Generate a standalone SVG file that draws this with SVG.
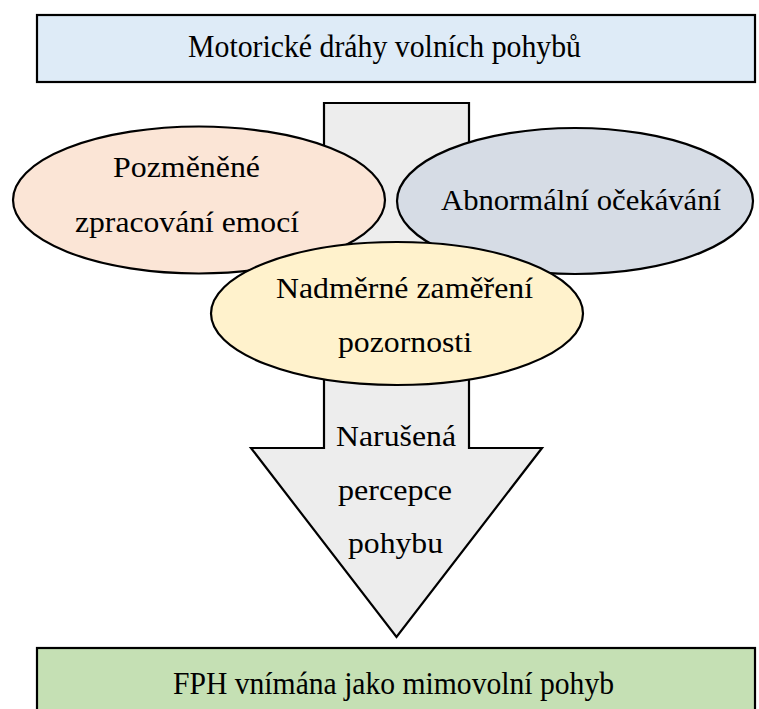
<svg xmlns="http://www.w3.org/2000/svg" width="759" height="709" viewBox="0 0 759 709">
<style>
.b{stroke:#000;stroke-width:2.2}
.t{font-family:'Liberation Serif','DejaVu Serif',serif;font-size:29px;fill:#000}
.h{font-size:32px}
</style>
<rect width="759" height="709" fill="#fff"/>
<g id="connectors">
<path id="arrow" class="b" fill="#EDEDED" d="M324,103 H469 V448 H542 L396.5,637 L251,448 H324 Z"/>
</g>
<g id="top">
<rect class="b" x="37" y="15" width="718" height="67" fill="#DEEBF7"/>
<text class="t h" x="188" y="57" textLength="393" lengthAdjust="spacingAndGlyphs">Motorické dráhy volních pohybů</text>
</g>
<g id="emoce">
<ellipse class="b" cx="199" cy="200" rx="186" ry="73.5" fill="#FBE5D6"/>
<text class="t" x="113" y="177" textLength="147" lengthAdjust="spacingAndGlyphs">Pozměněné</text>
<text class="t" x="75" y="232" textLength="224" lengthAdjust="spacingAndGlyphs">zpracování emocí</text>
</g>
<g id="ocekavani">
<ellipse class="b" cx="575" cy="201" rx="178" ry="73" fill="#D6DCE5"/>
<text class="t" x="441" y="210" textLength="280" lengthAdjust="spacingAndGlyphs">Abnormální očekávání</text>
</g>
<g id="pozornost">
<ellipse class="b" cx="397" cy="313.5" rx="186" ry="71.5" fill="#FFF2CC"/>
<text class="t" x="276" y="298" textLength="257" lengthAdjust="spacingAndGlyphs">Nadměrné zaměření</text>
<text class="t" x="338" y="352" textLength="134" lengthAdjust="spacingAndGlyphs">pozornosti</text>
</g>
<g id="arrow-label">
<text class="t" x="336" y="446" textLength="120" lengthAdjust="spacingAndGlyphs">Narušená</text>
<text class="t" x="338" y="500" textLength="114" lengthAdjust="spacingAndGlyphs">percepce</text>
<text class="t" x="348" y="553" textLength="95" lengthAdjust="spacingAndGlyphs">pohybu</text>
</g>
<g id="bottom">
<rect class="b" x="37" y="648" width="718" height="70" fill="#C5E0B4"/>
<text class="t h" x="173" y="694" textLength="441" lengthAdjust="spacingAndGlyphs">FPH vnímána jako mimovolní pohyb</text>
</g>
</svg>
